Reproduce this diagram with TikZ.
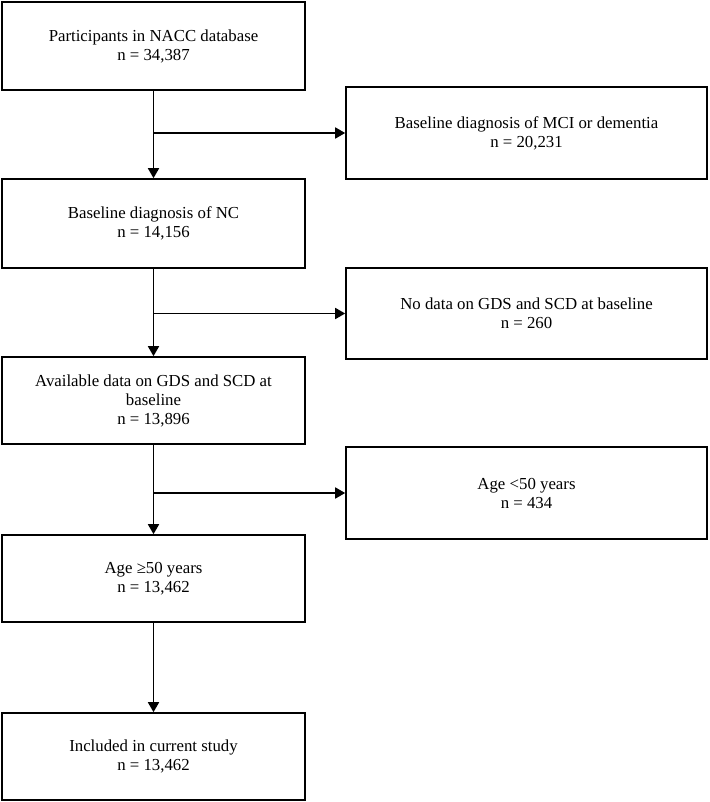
\documentclass[tikz,border=0pt]{standalone}
\usepackage{fontspec}
\setmainfont{Liberation Serif}
\usetikzlibrary{arrows.meta}
\begin{document}
\begin{tikzpicture}[x=1pt,y=-1pt,
  box/.style={draw, line width=1.6pt, rectangle, align=center, inner sep=0pt,
    font=\fontsize{16.8}{19}\selectfont},
  lbox/.style={box, minimum width=303pt},
  rbox/.style={box, minimum width=361pt},
  arr/.style={line width=1.6pt, -{Triangle[length=10pt,width=11pt]}}]
\useasboundingbox (0,0) rectangle (709,802);
\node[lbox, minimum height=88pt] (b1) at (153.5,46) {Participants in NACC database\\n = 34,387};
\node[rbox, minimum height=92pt] (r1) at (526.5,133) {Baseline diagnosis of MCI or dementia\\n = 20,231};
\node[lbox, minimum height=89pt] (b2) at (153.5,223.5) {Baseline diagnosis of NC\\n = 14,156};
\node[rbox, minimum height=91pt] (r2) at (526.5,313.5) {No data on GDS and SCD at baseline\\n = 260};
\node[lbox, minimum height=87pt] (b3) at (153.5,400.5) {Available data on GDS and SCD at\\baseline\\n = 13,896};
\node[rbox, minimum height=92pt] (r3) at (526.5,493) {Age <50 years\\n = 434};
\node[lbox, minimum height=87pt] (b4) at (153.5,578.5) {Age ≥50 years\\n = 13,462};
\node[lbox, minimum height=87pt] (b5) at (153.5,756.5) {Included in current study\\n = 13,462};
\coordinate (j1) at (b1.south |- r1.west);
\coordinate (j2) at (b2.south |- r2.west);
\coordinate (j3) at (b3.south |- r3.west);
\draw[arr] (b1.south) -- (b2.north);
\draw[arr] (j1) -- (r1.west);
\draw[arr] (b2.south) -- (b3.north);
\draw[arr] (j2) -- (r2.west);
\draw[arr] (b3.south) -- (b4.north);
\draw[arr] (j3) -- (r3.west);
\draw[arr] (b4.south) -- (b5.north);
\end{tikzpicture}
\end{document}
